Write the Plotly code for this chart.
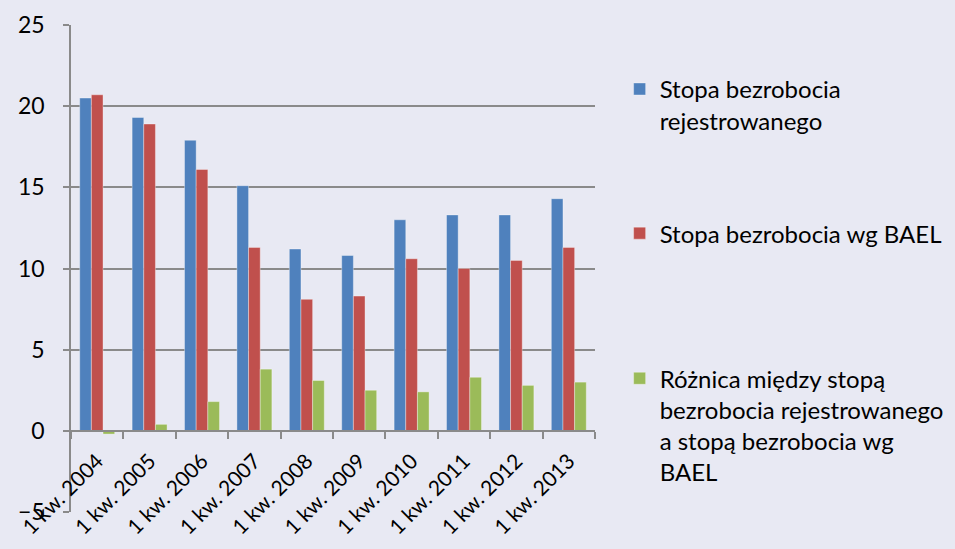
import plotly.graph_objects as go

categories = ["1 kw. 2004", "1 kw. 2005", "1 kw. 2006", "1 kw. 2007", "1 kw. 2008",
              "1 kw. 2009", "1 kw. 2010", "1 kw. 2011", "1 kw. 2012", "1 kw. 2013"]
registered = [20.5, 19.3, 17.9, 15.1, 11.2, 10.8, 13.0, 13.3, 13.3, 14.3]
bael = [20.7, 18.9, 16.1, 11.3, 8.1, 8.3, 10.6, 10.0, 10.5, 11.3]
difference = [-0.2, 0.4, 1.8, 3.8, 3.1, 2.5, 2.4, 3.3, 2.8, 3.0]

names = ["Stopa bezrobocia<br>rejestrowanego",
         "Stopa bezrobocia wg BAEL",
         "Różnica między stopą<br>bezrobocia rejestrowanego<br>a stopą bezrobocia wg<br>BAEL"]
colors = ["#4F81BD", "#C0504D", "#9BBB59"]
series = [registered, bael, difference]
legends = ["legend", "legend2", "legend3"]

FONT = "Lato"
BG = "rgb(232,233,243)"
GRID = "#8A8A8A"

fig = go.Figure()
for vals, name, col, lg in zip(series, names, colors, legends):
    fig.add_trace(go.Bar(
        x=categories, y=vals, name=name, marker_color=col,
        marker_line=dict(color="rgba(255,255,255,0.35)", width=1),
        legend=lg, showlegend=True,
    ))

leg_common = dict(font=dict(family=FONT, size=24, color="#000000"),
                  bgcolor="rgba(0,0,0,0)", xanchor="left", yanchor="top",
                  valign="top", itemclick=False)

fig.update_layout(
    width=955, height=549,
    margin=dict(l=71, r=360, t=25, b=37, autoexpand=False),
    paper_bgcolor=BG, plot_bgcolor=BG,
    showlegend=True,
    barmode="group", bargap=0.333, bargroupgap=0,
    font=dict(family=FONT, size=23, color="#000000"),
    legend=dict(x=1.047, y=0.914, **leg_common),
    legend2=dict(x=1.047, y=0.618, **leg_common),
    legend3=dict(x=1.047, y=0.320, **leg_common),
    xaxis=dict(
        anchor="free", position=5 / 30, automargin=False,
        showline=True, linecolor=GRID, linewidth=1.5,
        ticks="outside", tickson="boundaries", ticklen=7, tickcolor=GRID, tickwidth=1.5,
        tickangle=-45, showgrid=False, ticklabelstandoff=9,
        tickfont=dict(family=FONT, size=21, color="#000000"),
    ),
    yaxis=dict(
        range=[-5, 25], dtick=5, tick0=0, automargin=False,
        showline=True, linecolor=GRID, linewidth=1.5,
        ticks="outside", ticklen=6, tickcolor=GRID, tickwidth=1.5,
        showgrid=True, gridcolor=GRID, gridwidth=1.5,
        zeroline=False, ticklabelstandoff=14,
        tickfont=dict(family=FONT, size=23, color="#000000"),
    ),
)

fig.write_html("out.html")
